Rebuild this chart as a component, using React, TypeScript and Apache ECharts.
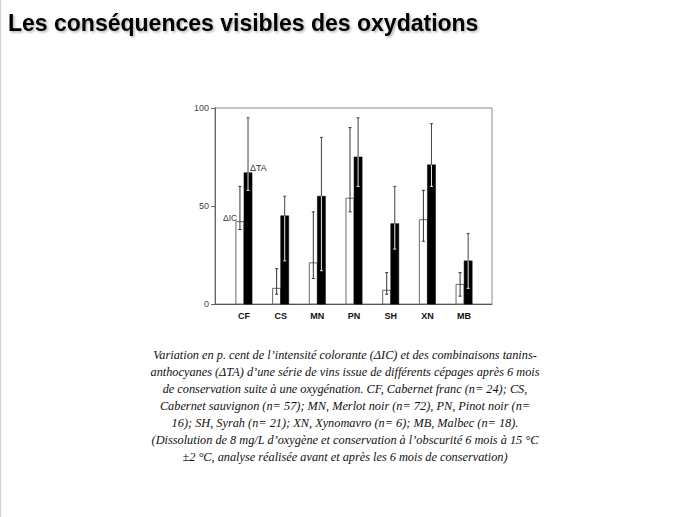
import React, { useEffect, useRef } from 'react';
import * as echarts from 'echarts';

// cépages
const categories = ['CF', 'CS', 'MN', 'PN', 'SH', 'XN', 'MB'];

// ΔIC : moyenne, bas et haut de la barre d'erreur (%)
const icMean = [42, 8, 21, 54, 7, 43, 10];
const icLow = [38, 5, 13, 47, 5, 32, 4];
const icHigh = [60, 18, 47, 90, 16, 58, 16];

// ΔTA
const taMean = [67, 45, 55, 75, 41, 71, 22];
const taLow = [58, 22, 17, 60, 28, 60, 8];
const taHigh = [95, 55, 85, 95, 60, 92, 36];

const yTicks = [0, 50, 100];

const captionLines = [
  'Variation en p. cent de l’intensité colorante (ΔIC) et des combinaisons tanins-',
  'anthocyanes (ΔTA) d’une série de vins issue de différents cépages après 6 mois',
  'de conservation suite à une oxygénation. CF, Cabernet franc (n= 24); CS,',
  'Cabernet sauvignon (n= 57); MN, Merlot noir (n= 72), PN, Pinot noir (n=',
  '16); SH, Syrah (n= 21); XN, Xynomavro (n= 6); MB, Malbec (n= 18).',
  '(Dissolution de 8 mg/L d’oxygène et conservation à l’obscurité 6 mois à 15 °C',
  '±2 °C, analyse réalisée avant et après les 6 mois de conservation)',
];

const errorBar = (x: number, yLow: number, yHigh: number, color: string) => [
  { type: 'line', shape: { x1: x, y1: yLow, x2: x, y2: yHigh }, style: { stroke: color, lineWidth: 1 } },
  { type: 'line', shape: { x1: x - 1.5, y1: yHigh, x2: x + 1.5, y2: yHigh }, style: { stroke: color, lineWidth: 1 } },
  { type: 'line', shape: { x1: x - 1.5, y1: yLow, x2: x + 1.5, y2: yLow }, style: { stroke: color, lineWidth: 1 } },
];

const App: React.FC = () => {
  const chartRef = useRef<HTMLDivElement>(null);

  useEffect(() => {
    const chart = echarts.init(chartRef.current!, null, { renderer: 'svg' });

    const data = categories.map((c, i) => [i, icMean[i], icLow[i], icHigh[i], taMean[i], taLow[i], taHigh[i]]);

    const options = {
      animation: false,
      backgroundColor: '#fff',
      grid: {
        left: 215,
        top: 108,
        width: 277,
        height: 196,
        show: true,
        borderColor: '#8a8a8a',
        borderWidth: 1,
      },
      xAxis: {
        type: 'value',
        min: -0.79,
        max: 6.76,
        axisLabel: { show: false },
        axisTick: { show: false },
        splitLine: { show: false },
        axisLine: { show: true, onZero: false, lineStyle: { color: '#555' } },
      },
      yAxis: {
        type: 'value',
        min: 0,
        max: 100,
        interval: 50,
        splitLine: { show: false },
        axisLine: { show: true, onZero: false, lineStyle: { color: '#666' } },
        axisTick: { show: true, length: 4, lineStyle: { color: '#666' } },
        axisLabel: {
          color: '#444',
          fontSize: 9,
          fontFamily: 'Liberation Sans',
          margin: 6,
          formatter: (v: number) => (yTicks.includes(v) ? String(v) : ''),
        },
      },
      series: [
        {
          type: 'custom',
          data,
          renderItem: (params: any, api: any) => {
            const i = api.value(0);
            const [x0, y0] = api.coord([i, 0]);
            const w = api.size([1, 0])[0] * 0.22;
            const yIc = api.coord([i, api.value(1)])[1];
            const yIcLow = api.coord([i, api.value(2)])[1];
            const yIcHigh = api.coord([i, api.value(3)])[1];
            const yTa = api.coord([i, api.value(4)])[1];
            const yTaLow = api.coord([i, api.value(5)])[1];
            const yTaHigh = api.coord([i, api.value(6)])[1];
            const xIc = x0 - w / 2;
            const xTa = x0 + w / 2;
            return {
              type: 'group',
              children: [
                {
                  type: 'rect',
                  shape: { x: x0 - w, y: yIc, width: w, height: y0 - yIc },
                  style: { fill: '#fff', stroke: '#6a6a6a', lineWidth: 1 },
                },
                ...errorBar(xIc, yIcLow, yIcHigh, '#333'),
                {
                  type: 'rect',
                  shape: { x: x0, y: yTa, width: w, height: y0 - yTa },
                  style: { fill: '#000', stroke: '#000', lineWidth: 0.5 },
                },
                // partie haute grise, partie dans la barre en blanc
                ...errorBar(xTa, yTa, yTaHigh, '#444').slice(0, 2),
                ...errorBar(xTa, yTaLow, yTa, '#e8e8e8').filter((_, k) => k !== 1),
                {
                  type: 'text',
                  style: {
                    text: categories[i],
                    x: x0,
                    y: y0 + 12,
                    align: 'center',
                    verticalAlign: 'middle',
                    fontSize: 9,
                    fontWeight: 'bold',
                    fontFamily: 'Liberation Sans',
                    fill: '#111',
                  },
                },
              ],
            };
          },
        },
      ],
      graphic: [
        {
          type: 'line',
          shape: { x1: 0.5, y1: 0, x2: 0.5, y2: 517 },
          style: { stroke: '#d4d4d4', lineWidth: 1.5 },
        },
        {
          type: 'text',
          left: 8,
          top: 11,
          style: {
            text: 'Les conséquences visibles des oxydations',
            fontSize: 23,
            fontWeight: 'bold',
            fontFamily: 'Liberation Sans',
            fill: '#000',
            textShadowColor: 'rgba(0,0,0,0.3)',
            textShadowBlur: 2,
            textShadowOffsetX: 1.5,
            textShadowOffsetY: 1.5,
          },
        },
        {
          type: 'text',
          x: 223,
          y: 218,
          style: { text: 'ΔIC', fontSize: 8.5, fontFamily: 'Liberation Sans', fill: '#333', verticalAlign: 'middle' },
        },
        {
          type: 'text',
          x: 250,
          y: 168,
          style: { text: 'ΔTA', fontSize: 9, fontFamily: 'Liberation Sans', fill: '#333', verticalAlign: 'middle' },
        },
        ...captionLines.map((line, k) => ({
          type: 'text',
          x: 345,
          y: 355 + k * 17,
          style: {
            text: line,
            align: 'center',
            verticalAlign: 'middle',
            fontSize: 12.3,
            fontStyle: 'italic',
            fontFamily: 'Liberation Serif',
            fill: '#111',
          },
        })),
      ],
    };

    chart.setOption(options);

    return () => {
      chart.dispose();
    };
  }, []);

  return (
    <div
      ref={chartRef}
      style={{ position: 'absolute', left: 0, top: 0, width: '689px', height: '517px' }}
    />
  );
};

export default App;
